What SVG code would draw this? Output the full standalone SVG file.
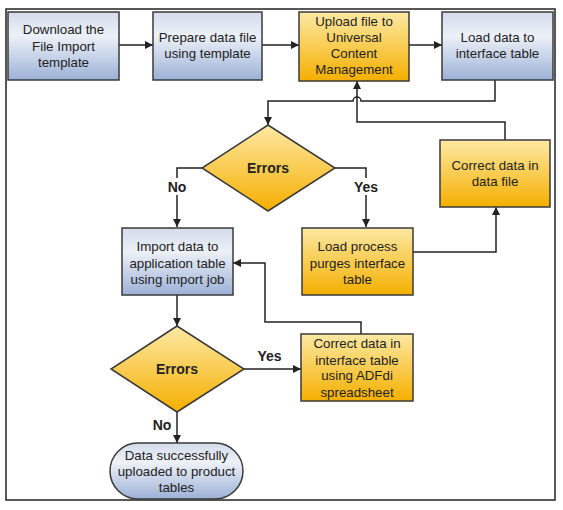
<svg xmlns="http://www.w3.org/2000/svg" width="563" height="510" viewBox="0 0 563 510">
<defs>
<linearGradient id="gBlue" x1="0" y1="0" x2="0" y2="1">
<stop offset="0" stop-color="#d3dcec"/>
<stop offset="0.35" stop-color="#edf1f8"/>
<stop offset="1" stop-color="#9cb1d7"/>
</linearGradient>
<linearGradient id="gYel" x1="0" y1="0" x2="0" y2="1">
<stop offset="0" stop-color="#fde9a4"/>
<stop offset="1" stop-color="#f5af00"/>
</linearGradient>
<marker id="arr" viewBox="0 0 10 10" refX="10" refY="5" markerWidth="8" markerHeight="8" markerUnits="userSpaceOnUse" orient="auto">
<path d="M0,0 L10,5 L0,10 z" fill="#222"/>
</marker>
<style>
.blue{fill:url(#gBlue);stroke:#3a3a3a;stroke-width:1.5}
.yel{fill:url(#gYel);stroke:#3a3a3a;stroke-width:1.5}
.t{font-family:"Liberation Sans",Arial,sans-serif;font-size:13.3px;fill:#222;text-anchor:middle}
.b{font-family:"Liberation Sans",Arial,sans-serif;font-size:14px;font-weight:bold;fill:#222;text-anchor:middle}
.c{fill:none;stroke:#222;stroke-width:1.5}
.lbg{fill:#fff}
</style>
</defs>
<rect x="0" y="0" width="563" height="510" fill="#fff"/>
<rect x="6" y="9" width="549" height="491" fill="none" stroke="#222" stroke-width="1.5"/>

<g id="connectors">
<path class="c" d="M119,45 H153" marker-end="url(#arr)"/>
<path class="c" d="M262,45 H299" marker-end="url(#arr)"/>
<path class="c" d="M409,45 H442" marker-end="url(#arr)"/>
<path class="c" d="M495,80 V101 H361 A4,4 0 0 0 353,101 H268 V125" marker-end="url(#arr)"/>
<path class="c" d="M505,140 V122 H357 V81" marker-end="url(#arr)"/>
<path class="c" d="M202,168 H177 V227" marker-end="url(#arr)"/>
<path class="c" d="M335,168 H366 V227" marker-end="url(#arr)"/>
<path class="c" d="M413,252 H496 V207" marker-end="url(#arr)"/>
<path class="c" d="M177,295 V326" marker-end="url(#arr)"/>
<path class="c" d="M244,369 H301" marker-end="url(#arr)"/>
<path class="c" d="M361,334 V322 H265 V263 H233" marker-end="url(#arr)"/>
<path class="c" d="M177,412 V443" marker-end="url(#arr)"/>
<rect class="lbg" x="164" y="178" width="26" height="17"/>
<text class="b" x="177" y="192">No</text>
<rect class="lbg" x="351" y="178" width="30" height="17"/>
<text class="b" x="366" y="192">Yes</text>
<text class="b" x="269.5" y="361">Yes</text>
<text class="b" x="162" y="430">No</text>
</g>

<g id="download">
<rect class="blue" x="8" y="12" width="111" height="68"/>
<text class="t" x="63.5" y="34">Download the</text>
<text class="t" x="63.5" y="51">File Import</text>
<text class="t" x="63.5" y="67">template</text>
</g>
<g id="prepare">
<rect class="blue" x="153" y="12" width="109" height="68"/>
<text class="t" x="207.5" y="42">Prepare data file</text>
<text class="t" x="207.5" y="58">using template</text>
</g>
<g id="upload">
<rect class="yel" x="299" y="12" width="110" height="69"/>
<text class="t" x="354" y="26">Upload file to</text>
<text class="t" x="354" y="41.5">Universal</text>
<text class="t" x="354" y="57.5">Content</text>
<text class="t" x="354" y="73.5">Management</text>
</g>
<g id="loadInterface">
<rect class="blue" x="442" y="12" width="111" height="68"/>
<text class="t" x="497.5" y="42">Load data to</text>
<text class="t" x="497.5" y="58">interface table</text>
</g>
<g id="errors1">
<polygon class="yel" points="268,125 335,168 268,211 202,168"/>
<text class="b" x="268" y="173">Errors</text>
</g>
<g id="correctFile">
<rect class="yel" x="440" y="140" width="110" height="67"/>
<text class="t" x="495" y="170">Correct data in</text>
<text class="t" x="495" y="186">data file</text>
</g>
<g id="importData">
<rect class="blue" x="122" y="228" width="111" height="67"/>
<text class="t" x="177.5" y="251">Import data to</text>
<text class="t" x="177.5" y="268">application table</text>
<text class="t" x="177.5" y="284">using import job</text>
</g>
<g id="loadProcess">
<rect class="yel" x="302" y="228" width="111" height="67"/>
<text class="t" x="357.5" y="251">Load process</text>
<text class="t" x="357.5" y="268">purges interface</text>
<text class="t" x="357.5" y="284">table</text>
</g>
<g id="errors2">
<polygon class="yel" points="177,326 244,369 177,412 111,369"/>
<text class="b" x="177" y="374">Errors</text>
</g>
<g id="correctInterface">
<rect class="yel" x="301" y="334" width="112" height="67"/>
<text class="t" x="357" y="348">Correct data in</text>
<text class="t" x="357" y="364.5">interface table</text>
<text class="t" x="357" y="380">using ADFdi</text>
<text class="t" x="357" y="396.5">spreadsheet</text>
</g>
<g id="success">
<rect class="blue" x="110" y="443" width="133" height="56" rx="28" ry="28"/>
<text class="t" x="176.5" y="460">Data successfully</text>
<text class="t" x="176.5" y="476">uploaded to product</text>
<text class="t" x="176.5" y="492">tables</text>
</g>
</svg>
